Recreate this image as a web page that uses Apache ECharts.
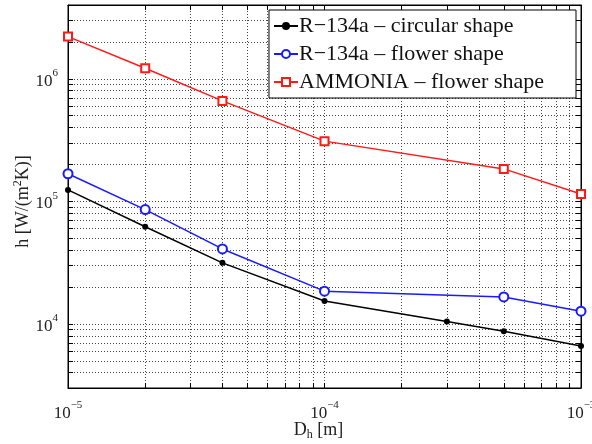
<!DOCTYPE html>
<html><head><meta charset="utf-8">
<script src="https://cdn.jsdelivr.net/npm/echarts@6/dist/echarts.min.js"></script>
<style>html,body{margin:0;padding:0;background:#fff}#c{width:592px;height:444px}</style>
</head><body><div id="c"></div>
<script>
const seriesNames = ['R\u2212134a \u2013 circular shape', 'R\u2212134a \u2013 flower shape', 'AMMONIA \u2013 flower shape'];
const circularX = [1e-5, 2e-5, 4e-5, 1e-4, 3e-4, 5e-4, 1e-3];
const circularH = [1.24e5, 6.2e4, 3.15e4, 1.54e4, 1.045e4, 8.7e3, 6.6e3];
const flowerX = [1e-5, 2e-5, 4e-5, 1e-4, 5e-4, 1e-3];
const r134Flower = [1.68e5, 8.57e4, 4.09e4, 1.85e4, 1.66e4, 1.27e4];
const ammoniaFlower = [2.21e6, 1.22e6, 6.6e5, 3.1e5, 1.84e5, 1.15e5];
const xTickValues = [1e-5,2e-5,3e-5,4e-5,5e-5,6e-5,7e-5,8e-5,9e-5,1e-4,2e-4,3e-4,4e-4,5e-4,6e-4,7e-4,8e-4,9e-4,1e-3];
const xLabelValues = [1e-5, 1e-4, 1e-3];
const yTickValues = [3e3,4e3,5e3,6e3,7e3,8e3,9e3,1e4,2e4,3e4,4e4,5e4,6e4,7e4,8e4,9e4,1e5,2e5,3e5,4e5,5e5,6e5,7e5,8e5,9e5,1e6,2e6,3e6,4e6];
const yLabelValues = [1e4, 1e5, 1e6];

const FONT = 'Liberation Serif';
function pow10Label(v) {
  const e = Math.round(Math.log10(v));
  return '{b|10}{e|' + (e < 0 ? '\u2212' + (-e) : e) + '}';
}
const powRich = {
  b: {fontFamily: FONT, fontSize: 17, color: '#222', verticalAlign: 'bottom', lineHeight: 22},
  e: {fontFamily: FONT, fontSize: 11, color: '#222', verticalAlign: 'top', lineHeight: 12}
};
const gridLine = {show: true, lineStyle: {color: '#444', width: 1, type: [1, 2]}};

function pair(xs, ys) { return xs.map((x, i) => [x, ys[i]]); }

const chart = echarts.init(document.getElementById('c'), null, {renderer: 'canvas'});
chart.setOption({
  backgroundColor: '#fff',
  animation: false,
  grid: {left: 68, right: 11, top: 5, bottom: 56, show: true, borderColor: '#000', borderWidth: 1,
         backgroundColor: 'transparent', containLabel: false, outerBoundsMode: 'none'},
  legend: {
    orient: 'vertical', right: 16, top: 10,
    backgroundColor: '#fff', borderColor: '#000', borderWidth: 1,
    padding: [3, 32, 3, 4], itemGap: 2, itemWidth: 24, itemHeight: 10,
    textStyle: {fontFamily: FONT, fontSize: 22, lineHeight: 26, color: '#111', padding: [0, 0, 0, -4]},
    data: seriesNames
  },
  xAxis: [{
    type: 'log', logBase: 10, min: 1e-5, max: 1e-3,
    name: '{b|D}{s|h}{b| [m]}', nameLocation: 'middle', nameGap: 33, nameMoveOverlap: false,
    nameTextStyle: {padding: [0, 12, 0, 0], rich: {
      b: {fontFamily: FONT, fontSize: 18, color: '#222', verticalAlign: 'top', lineHeight: 20},
      s: {fontFamily: FONT, fontSize: 12, color: '#222', verticalAlign: 'bottom', lineHeight: 12, padding: [10, 0, 0, 0]}
    }},
    axisLine: {show: true, lineStyle: {color: '#000', width: 1}},
    axisTick: {show: true, inside: true, length: 5, customValues: xTickValues, lineStyle: {color: '#000'}},
    axisLabel: {show: true, margin: 12, customValues: xLabelValues, formatter: pow10Label, rich: powRich},
    splitLine: gridLine,
    minorTick: {show: false}, minorSplitLine: {show: false}
  }, {
    type: 'log', logBase: 10, min: 1e-5, max: 1e-3, position: 'top',
    axisLine: {show: true, lineStyle: {color: '#000', width: 1}},
    axisTick: {show: true, inside: true, length: 5, customValues: xTickValues, lineStyle: {color: '#000'}},
    axisLabel: {show: false}, splitLine: {show: false}
  }],
  yAxis: [{
    type: 'log', logBase: 10, min: 3e3, max: 4e6,
    name: 'h [W/(m{e|2}K)]', nameLocation: 'middle', nameGap: 34, nameRotate: 90, nameMoveOverlap: false,
    nameTextStyle: {fontFamily: FONT, fontSize: 18, color: '#222', verticalAlign: 'bottom', lineHeight: 22,
      padding: [0, 10, 0, 0], rich: {
      e: {fontFamily: FONT, fontSize: 12, color: '#222', verticalAlign: 'top', lineHeight: 12}
    }},
    axisLine: {show: true, lineStyle: {color: '#000', width: 1}},
    axisTick: {show: true, inside: true, length: 5, customValues: yTickValues, lineStyle: {color: '#000'}},
    axisLabel: {show: true, margin: 10, customValues: yLabelValues, formatter: pow10Label, rich: powRich},
    splitLine: gridLine,
    minorTick: {show: false}, minorSplitLine: {show: false}
  }, {
    type: 'log', logBase: 10, min: 3e3, max: 4e6, position: 'right',
    axisLine: {show: true, lineStyle: {color: '#000', width: 1}},
    axisTick: {show: true, inside: true, length: 5, customValues: yTickValues, lineStyle: {color: '#000'}},
    axisLabel: {show: false}, splitLine: {show: false}
  }],
  series: [{
    name: seriesNames[0], type: 'line', data: pair(circularX, circularH),
    symbol: 'circle', symbolSize: 6, showAllSymbol: true,
    lineStyle: {color: '#000', width: 1.5}, itemStyle: {color: '#000'}
  }, {
    name: seriesNames[1], type: 'line', data: pair(flowerX, r134Flower),
    symbol: 'emptyCircle', symbolSize: 9, showAllSymbol: true,
    lineStyle: {color: '#1a1aff', width: 1.5}, itemStyle: {color: '#1a1aff', borderWidth: 1.5}
  }, {
    name: seriesNames[2], type: 'line', data: pair(flowerX, ammoniaFlower),
    symbol: 'emptyRect', symbolSize: 8, showAllSymbol: true,
    lineStyle: {color: '#ff1a1a', width: 1.5}, itemStyle: {color: '#ff1a1a', borderWidth: 1.5}
  }]
});
</script>
</body></html>
